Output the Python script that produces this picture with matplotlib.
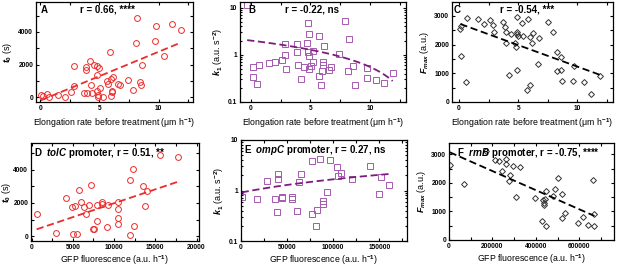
import numpy as np
import matplotlib
matplotlib.use('Agg')
import matplotlib.pyplot as plt
from matplotlib.ticker import MultipleLocator, FixedLocator, NullFormatter, LogLocator

plt.rcParams['font.family'] = ['Liberation Sans', 'DejaVu Sans']
plt.rcParams['font.weight'] = 'bold'
plt.rcParams['mathtext.fontset'] = 'custom'
plt.rcParams['mathtext.rm'] = 'Liberation Sans:bold'
plt.rcParams['mathtext.bf'] = 'Liberation Sans:bold'
plt.rcParams['mathtext.it'] = 'Liberation Sans:italic:bold'
plt.rcParams['axes.linewidth'] = 0.9

# panel A: elongation rate vs t0
a_x = [0.06, 0.22, 0.56, 0.76, 1.54, 2.1, 2.6, 2.86, 2.89, 3.7, 3.87, 3.87, 3.98, 4.2, 4.3, 4.4,
       4.57, 4.76, 4.76, 4.76, 4.85, 4.9, 4.99, 5.04, 5.3, 5.66, 5.7, 5.88, 6.0, 6.05, 6.1, 6.16,
       6.0, 6.58, 6.72, 7.42, 7.84, 8.12, 8.2, 8.46, 8.49, 8.63, 9.75, 9.7, 10.42, 11.15, 11.85]
a_y = [163, 50, 224, 40, 163, 40, 325, 671, 1890, 285, 1830, 1650, 285, 2236, 732, 285,
       1970, 1910, 1340, 386, 142, 0, 1810, 549, 40, 976, 813, 2785, 1098, 407, 346, 1220,
       100, 813, 732, 1057, 427, 3334, 4880, 915, 752, 1952, 4350, 3456, 2520, 4513, 4127]
a_fit = (-205, 299)

# panel B: elongation rate vs k1
b_x = [-0.3, 0.22, 0.22, 0.5, 0.7, 1.54, 2.04, 2.58, 2.89, 2.89, 2.94, 3.87, 3.84, 3.92, 4.2,
       4.43, 4.68, 4.76, 4.82, 4.85, 4.85, 4.87, 5.04, 5.18, 5.24, 5.74, 5.69, 5.88, 5.99, 6.08,
       6.08, 6.16, 6.55, 6.72, 7.42, 7.9, 8.18, 8.26, 8.54, 8.74, 9.72, 9.72, 10.5, 11.15, 11.88]
b_y = [11.5, 0.54, 0.34, 0.24, 0.62, 0.67, 0.71, 0.79, 1.67, 1.0, 0.5, 1.7, 1.14, 0.62, 0.3,
       0.54, 1.81, 1.14, 4.77, 2.76, 0.95, 0.5, 0.57, 0.69, 1.19, 2.5, 0.36, 0.23, 0.45, 0.72,
       0.6, 1.5, 0.48, 0.54, 1.03, 5.26, 0.45, 2.16, 0.57, 0.23, 0.53, 0.32, 0.29, 0.25, 0.41]
b_fit = (2.0, -0.145)

# panel C: elongation rate vs Fmax
c_x = [0.11, 0.2, 0.2, 0.56, 0.7, 1.6, 2.08, 2.59, 2.87, 2.96, 3.72, 3.86, 3.94, 3.94, 4.23,
       4.42, 4.7, 4.79, 4.85, 4.85, 4.9, 4.93, 4.99, 5.32, 5.41, 5.75, 5.83, 5.97, 6.03, 6.17,
       6.25, 6.65, 6.73, 7.52, 7.94, 8.31, 8.23, 8.59, 8.59, 8.73, 9.69, 9.58, 10.54, 11.18, 11.94]
c_y = [2540, 2644, 1586, 690, 2908, 2885, 2701, 2850, 2678, 2425, 2793, 2620, 2448, 2046, 954,
       2356, 2069, 1931, 2966, 2425, 1126, 2368, 2310, 2759, 2299, 414, 2874, 575, 2276, 2069,
       2391, 1333, 2218, 2793, 2425, 1736, 1069, 1552, 1126, 747, 1241, 747, 690, 287, 920]
c_fit = (2730, -150)

# panel D: tolC GFP vs t0
d_x = [606, 2950, 4160, 4850, 4970, 5250, 5535, 5737, 5980, 6340, 6585, 6990, 7190, 7474, 7550,
       7880, 7880, 8565, 8565, 9090, 9210, 10420, 10500, 10500, 10420, 11920, 11920, 12320, 12400,
       13450, 13740, 14020, 15550, 17780]
d_y = [1320, 203, 2294, 1746, 122, 1827, 122, 2800, 2070, 1746, 1320, 1868, 3065, 406, 406,
       934, 1868, 2030, 1950, 568, 1868, 2030, 1624, 1076, 731, 3370, 61, 4060, 609,
       3004, 1827, 2700, 4933, 4790]
d_fit = (306, 0.168)

# panel E: ompC GFP vs k1
e_x = [725, 17000, 27900, 36900, 38700, 40500, 40500, 44200, 44900, 55000, 55700, 60500, 63000,
       65200, 76700, 77500, 81500, 82200, 85800, 89400, 89400, 93000, 96700, 103900, 105000,
       108600, 120200, 139400, 149100, 152000, 161000]
e_y = [0.74, 0.69, 1.52, 0.69, 0.38, 1.69, 2.15, 0.74, 0.72, 0.69, 0.74, 0.40, 1.48,
       2.11, 0.34, 3.92, 0.195, 0.41, 4.22, 0.62, 0.53, 0.93, 4.03, 2.86, 1.91,
       2.21, 1.72, 3.08, 0.86, 1.82, 1.31]
e_fit = (0.91, 7.55e-6)

# panel F: rrnB GFP vs Fmax
f_x = [3200, 69300, 172700, 211000, 231000, 261900, 261900, 244800, 295600, 326500, 280400,
       277100, 308100, 395800, 426700, 446600, 434200, 437400, 437400, 442000, 446600, 480400,
       488200, 503500, 522000, 534400, 522000, 595800, 618900, 642000, 662200, 669700, 669700]
f_y = [2638, 1976, 3136, 2812, 2777, 2847, 2672, 2429, 2603, 2555, 2265,
       2056, 1509, 1474, 662, 498, 1394, 1313, 1244, 1453, 1718, 1533,
       1777, 2185, 1603, 930, 777, 603, 791, 523, 2090, 895, 498]
f_fit = (3087, -0.00335)

red = '#ec2c2a'
purple = '#a45aae'
dpurple = '#7d1c7f'


def box(l, r, t, b):
    return [l / 617, 1 - b / 267, (r - l) / 617, (b - t) / 267]


def style(ax):
    ax.tick_params(which='both', direction='in', top=True, right=True, labelsize=4.8,
                   length=2.5, width=0.8, pad=2)


def scatter_fit(ax, x, y, fit, marker, mc, lc, ms):
    ax.plot(x, y, linestyle='none', marker=marker, ms=ms, mfc='none', mec=mc, mew=0.7)
    xs = np.linspace(min(x), max(x), 100)
    ax.plot(xs, fit[0] + fit[1] * xs, color=lc, linestyle=(0, (4, 2)), linewidth=1.3)


fig = plt.figure(figsize=(6.17, 2.67), dpi=100)
axA = fig.add_axes(box(36, 193, 2, 102))
axB = fig.add_axes(box(240, 406, 2, 102))
axC = fig.add_axes(box(452, 613, 2, 102))
axD = fig.add_axes(box(31, 199, 143, 241))
axE = fig.add_axes(box(241, 407, 140, 241))
axF = fig.add_axes(box(449, 614, 143, 240))

scatter_fit(axA, a_x, a_y, a_fit, 'o', red, red, 4.2)
scatter_fit(axB, b_x, b_y, b_fit, 's', purple, dpurple, 4.0)
scatter_fit(axC, c_x, c_y, c_fit, 'D', '#333333', 'black', 3.0)
scatter_fit(axD, d_x, d_y, d_fit, 'o', red, red, 4.2)
scatter_fit(axE, e_x, e_y, e_fit, 's', purple, dpurple, 4.0)
scatter_fit(axF, f_x, f_y, f_fit, 'D', '#333333', 'black', 3.0)

for ax in [axA, axB, axC, axD, axE, axF]:
    style(ax)

for ax in [axB, axE]:
    ax.set_yscale('log')
    ax.yaxis.set_major_locator(FixedLocator([0.1, 1, 10]))
    ax.set_yticklabels(['0.1', '1', '10'])
    ax.yaxis.set_minor_locator(LogLocator(base=10, subs=np.arange(2, 10)))
    ax.yaxis.set_minor_formatter(NullFormatter())
    ax.tick_params(which='minor', axis='y', length=1.3)

axA.set_xlim(-0.35, 12.9)
axA.set_ylim(-290, 5830)
axB.set_xlim(-0.9, 13)
axB.set_ylim(0.1, 13.1)
axC.set_xlim(-0.6, 13)
axC.set_ylim(0, 3480)
for ax in [axA, axB, axC]:
    ax.xaxis.set_major_locator(MultipleLocator(5))
    ax.xaxis.set_minor_locator(MultipleLocator(2.5))
    ax.set_xlabel('Elongation rate before treatment (\u03bcm h$^{-1}$)', fontsize=6.3, labelpad=3)
axA.yaxis.set_major_locator(MultipleLocator(2000))
axA.yaxis.set_minor_locator(MultipleLocator(1000))
axC.yaxis.set_major_locator(MultipleLocator(1000))
axC.yaxis.set_minor_locator(MultipleLocator(500))

axD.set_xlim(-80, 20300)
axD.set_ylim(-300, 5630)
axD.xaxis.set_major_locator(MultipleLocator(5000))
axD.xaxis.set_minor_locator(MultipleLocator(2500))
axD.yaxis.set_major_locator(MultipleLocator(2000))
axD.yaxis.set_minor_locator(MultipleLocator(1000))
axE.set_xlim(0, 180000)
axE.set_ylim(0.1, 10)
axE.xaxis.set_major_locator(MultipleLocator(50000))
axE.xaxis.set_minor_locator(MultipleLocator(25000))
axF.set_xlim(0, 760000)
axF.set_ylim(0, 3400)
axF.xaxis.set_major_locator(MultipleLocator(200000))
axF.xaxis.set_minor_locator(MultipleLocator(100000))
axF.yaxis.set_major_locator(MultipleLocator(1000))
axF.yaxis.set_minor_locator(MultipleLocator(500))
for ax in [axD, axE, axF]:
    ax.set_xlabel('GFP fluorescence (a.u. h$^{-1}$)', fontsize=6.3, labelpad=2)

axA.set_ylabel('$t_0$ (s)', fontsize=6.5, labelpad=3)
axD.set_ylabel('$t_0$ (s)', fontsize=6.5, labelpad=0.5)
axB.set_ylabel('$k_1$ (a.u. s$^{-2}$)', fontsize=6.5, labelpad=2)
axE.set_ylabel('$k_1$ (a.u. s$^{-2}$)', fontsize=6.5, labelpad=2)
axC.set_ylabel('$F_{max}$ (a.u.)', fontsize=6.5, labelpad=2)
axF.set_ylabel('$F_{max}$ (a.u.)', fontsize=6.5, labelpad=2)

tkw = dict(fontsize=7, va='top', fontweight='bold')
axA.text(0.03, 0.97, 'A', transform=axA.transAxes, **tkw)
axA.text(0.28, 0.97, 'r = 0.66, ****', transform=axA.transAxes, **tkw)
axB.text(0.05, 0.97, 'B', transform=axB.transAxes, **tkw)
axB.text(0.27, 0.97, 'r = -0.22, ns', transform=axB.transAxes, **tkw)
axC.text(0.01, 0.97, 'C', transform=axC.transAxes, **tkw)
axC.text(0.30, 0.97, 'r = -0.54, ***', transform=axC.transAxes, **tkw)
axD.text(0.02, 0.97, 'D  $tolC$ promoter, r = 0.51, **', transform=axD.transAxes, **tkw)
axE.text(0.02, 0.97, 'E  $ompC$ promoter, r = 0.27, ns', transform=axE.transAxes, **tkw)
axF.text(0.05, 0.97, 'F  $rrnB$ promoter, r = -0.75, ****', transform=axF.transAxes, **tkw)

fig.savefig('out.png', dpi=100)
